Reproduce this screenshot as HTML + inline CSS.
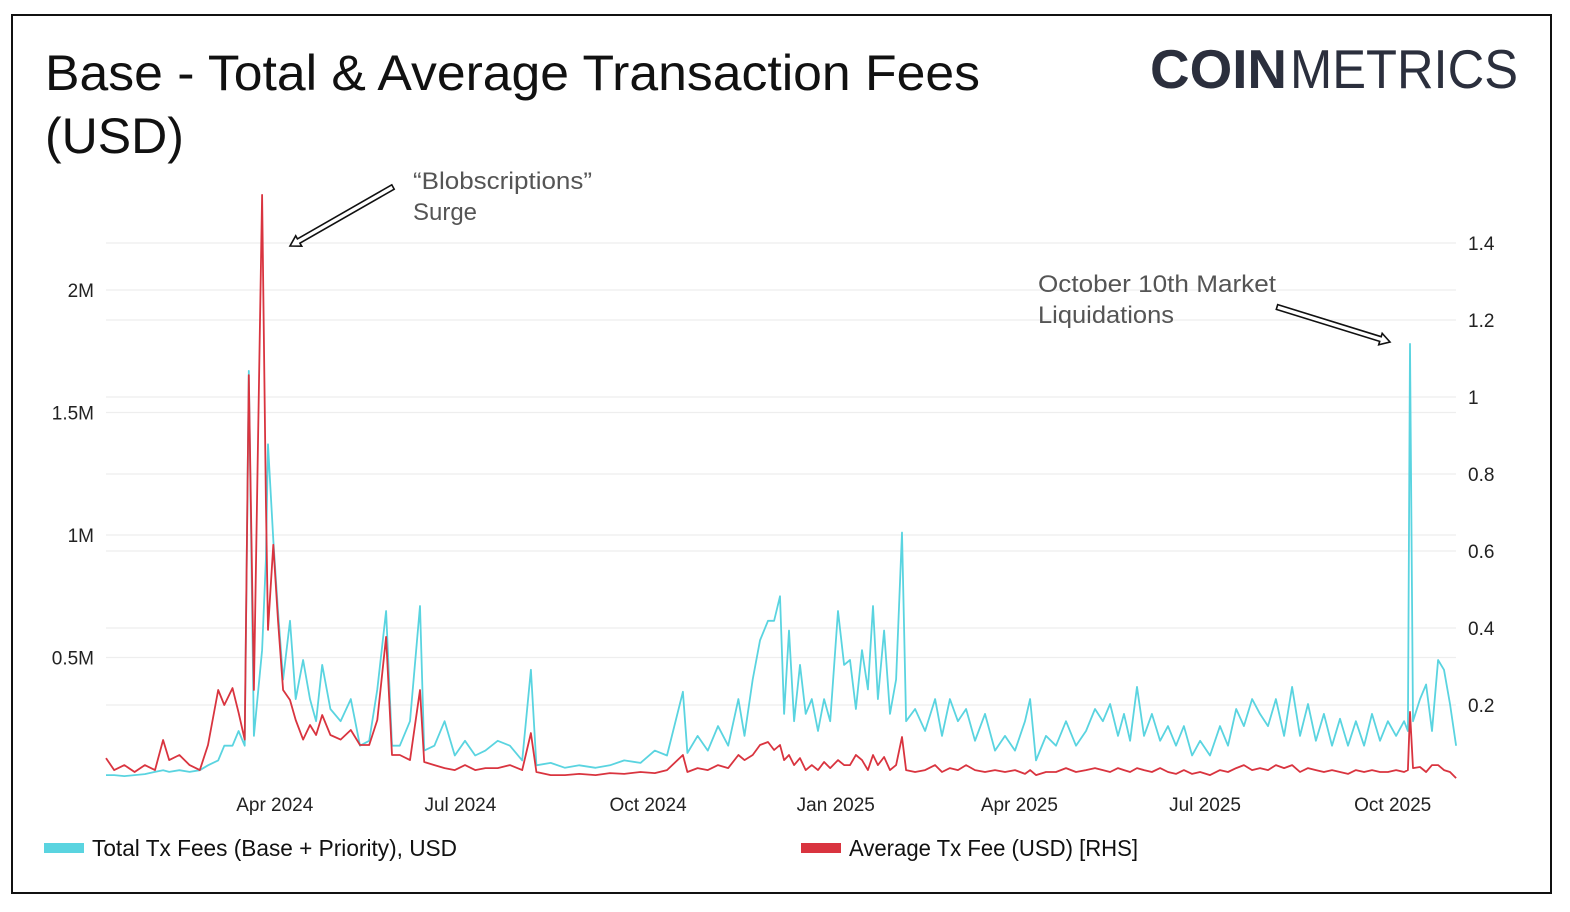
<!DOCTYPE html>
<html><head><meta charset="utf-8">
<style>
html,body{margin:0;padding:0;background:#fff;}
svg{display:block;font-family:"Liberation Sans",sans-serif;}
</style></head>
<body>
<svg id="chart" width="1570" height="912" viewBox="0 0 1570 912">
<rect x="12" y="15" width="1539" height="878" fill="#fff" stroke="#111" stroke-width="2"/>
<text x="45" y="90" font-size="50" fill="#111" textLength="935" lengthAdjust="spacingAndGlyphs">Base - Total &amp; Average Transaction Fees</text>
<text x="45" y="153" font-size="50" fill="#111">(USD)</text>
<g fill="#2b2f3d">
<text x="1150" y="88" font-size="55" font-weight="bold" textLength="137" lengthAdjust="spacingAndGlyphs">COIN</text>
<text x="1290" y="88" font-size="55" textLength="228" lengthAdjust="spacingAndGlyphs">METRICS</text>
</g>
<g id="grid"></g>
<g id="axes"></g>
<g id="series"></g>
<g fill="#555" font-size="24">
<text x="413" y="189" textLength="179" lengthAdjust="spacingAndGlyphs">“Blobscriptions”</text>
<text x="413" y="220" textLength="64" lengthAdjust="spacingAndGlyphs">Surge</text>
</g>
<g fill="#555" font-size="24">
<text x="1038" y="292" textLength="238" lengthAdjust="spacingAndGlyphs">October 10th Market</text>
<text x="1038" y="323" textLength="136" lengthAdjust="spacingAndGlyphs">Liquidations</text>
</g>
<g id="arrows"></g>
<g>
<g>
<rect x="44" y="843" width="40" height="10" fill="#5ad4e0"/>
<text x="92" y="856" font-size="23" fill="#111" textLength="365" lengthAdjust="spacingAndGlyphs">Total Tx Fees (Base + Priority), USD</text>
</g>
<g>
<rect x="801" y="843" width="40" height="10" fill="#d9343f"/>
<text x="849" y="856" font-size="23" fill="#111" textLength="289" lengthAdjust="spacingAndGlyphs">Average Tx Fee (USD) [RHS]</text>
</g>
</g>
</svg>
<script>
const days=[0,4,9,14,19,24,28,31,36,41,46,50,55,58,62,65,68,70,72.5,76.5,78.4,79.4,82,84.3,86.8,90.2,93,96.6,100,103,106,110,115,120,124.5,129,133,137.3,140.2,144,149,153.9,156,161,166,171,176,181,186,192,198,204,208.3,211,218,225,232,240,247,254,262,269,275,282.8,285,290,295,300,305,310,313,317,320.6,324.5,327.5,330.4,332.4,334.8,337.3,340.2,343,346,349,352,355,358.8,361.8,364.7,367.6,370.6,373.5,376,378.4,381.4,384.3,387.3,390.2,392.2,396.6,401.5,406.4,409.8,413.7,417.6,421.6,426,430.9,435.8,440.7,445.6,450.5,453,455.9,460.8,465.7,470.6,475.5,480.4,484.8,488.7,492.2,496.1,499,502,505.4,508.8,512.7,516.7,520.6,524.5,528.4,532.4,536.3,541.2,546.1,550,554,557.8,561.8,565.7,569.6,573.5,577.5,581.4,585.3,589.2,593.1,597,601,604.9,608.8,612.7,616.7,620.6,624.5,628.4,632.4,636.3,638.2,639.2,640.7,644.1,647.1,650,653,655.9,658.8,661.8];
const totalFees=[0.02,0.02,0.016,0.02,0.024,0.033,0.04,0.033,0.04,0.033,0.04,0.06,0.08,0.14,0.14,0.2,0.14,1.67,0.18,0.53,0.9,1.37,0.98,0.69,0.41,0.65,0.33,0.49,0.33,0.24,0.47,0.29,0.24,0.33,0.14,0.16,0.37,0.69,0.14,0.14,0.24,0.71,0.12,0.14,0.24,0.1,0.16,0.1,0.12,0.16,0.14,0.08,0.45,0.06,0.07,0.05,0.06,0.05,0.06,0.08,0.07,0.12,0.1,0.36,0.11,0.18,0.12,0.22,0.14,0.33,0.18,0.41,0.57,0.65,0.65,0.75,0.27,0.61,0.24,0.47,0.27,0.33,0.2,0.33,0.24,0.69,0.47,0.49,0.29,0.53,0.37,0.71,0.33,0.61,0.27,0.41,1.01,0.24,0.29,0.2,0.33,0.18,0.33,0.24,0.29,0.16,0.27,0.12,0.18,0.12,0.24,0.33,0.08,0.18,0.14,0.24,0.14,0.2,0.29,0.24,0.31,0.18,0.27,0.16,0.38,0.18,0.27,0.16,0.22,0.14,0.22,0.1,0.16,0.1,0.22,0.14,0.29,0.22,0.33,0.27,0.22,0.33,0.18,0.38,0.18,0.31,0.16,0.27,0.14,0.25,0.14,0.24,0.14,0.27,0.16,0.24,0.18,0.24,0.2,1.78,0.24,0.33,0.39,0.2,0.49,0.45,0.31,0.14];
const avgFee=[0.062,0.031,0.044,0.026,0.044,0.031,0.109,0.057,0.07,0.044,0.031,0.096,0.239,0.2,0.244,0.18,0.11,1.057,0.239,1.525,0.73,0.395,0.616,0.42,0.239,0.213,0.161,0.11,0.148,0.122,0.174,0.122,0.11,0.135,0.096,0.096,0.161,0.377,0.07,0.07,0.057,0.239,0.052,0.044,0.036,0.031,0.044,0.031,0.036,0.036,0.044,0.031,0.127,0.026,0.018,0.018,0.021,0.018,0.023,0.021,0.026,0.023,0.031,0.07,0.026,0.036,0.031,0.044,0.036,0.07,0.057,0.07,0.096,0.104,0.083,0.096,0.057,0.07,0.044,0.062,0.031,0.044,0.031,0.052,0.036,0.057,0.044,0.044,0.07,0.057,0.031,0.07,0.044,0.065,0.031,0.044,0.117,0.031,0.026,0.031,0.044,0.026,0.036,0.031,0.044,0.031,0.026,0.031,0.026,0.031,0.021,0.031,0.018,0.026,0.026,0.036,0.026,0.031,0.036,0.031,0.026,0.036,0.031,0.026,0.036,0.031,0.026,0.036,0.026,0.021,0.031,0.021,0.026,0.018,0.031,0.026,0.036,0.044,0.031,0.036,0.031,0.044,0.036,0.044,0.026,0.036,0.031,0.026,0.031,0.026,0.021,0.031,0.026,0.031,0.026,0.026,0.031,0.026,0.031,0.182,0.036,0.039,0.026,0.044,0.044,0.031,0.026,0.01];
const leftTicks=[0.5,1,1.5,2];
const leftTickLabels=["0.5M","1M","1.5M","2M"];
const rightTicks=[0.2,0.4,0.6,0.8,1,1.2,1.4];
const rightTickLabels=["0.2","0.4","0.6","0.8","1","1.2","1.4"];
const xTickDays=[82,173,265,357,447,538,630];
const xTickLabels=["Apr 2024","Jul 2024","Oct 2024","Jan 2025","Apr 2025","Jul 2025","Oct 2025"];

const NS="http://www.w3.org/2000/svg";
const xS=d=>106+d*2.04;
const yL=v=>780-v*245;
const yR=v=>782-v*385;
function mk(tag,attrs,parent){const e=document.createElementNS(NS,tag);for(const k in attrs)e.setAttribute(k,attrs[k]);parent.appendChild(e);return e;}
const grid=document.getElementById('grid'),axes=document.getElementById('axes'),series=document.getElementById('series'),arrows=document.getElementById('arrows');
leftTicks.forEach((t,i)=>{
 const l=mk('line',{x1:106,x2:1456,y1:yL(t),y2:yL(t),stroke:'#eeeeee','stroke-width':1.2},grid);
 
 
 const tx=mk('text',{x:94,y:yL(t)+7,'text-anchor':'end','font-size':19,fill:'#222'},axes);
 tx.textContent=leftTickLabels[i];
 
 
});
rightTicks.forEach((t,i)=>{
 const l=mk('line',{x1:106,x2:1456,y1:yR(t),y2:yR(t),stroke:'#eeeeee','stroke-width':1.2},grid);
 
 
 const tx=mk('text',{x:1468,y:yR(t)+7,'font-size':19,fill:'#222'},axes);
 tx.textContent=rightTickLabels[i];
 
 
});
xTickDays.forEach((d,i)=>{
 const tx=mk('text',{x:xS(d)+1.5,y:811,'text-anchor':'middle','font-size':19,fill:'#222'},axes);
 tx.textContent=xTickLabels[i];
 
 
});
const cp=mk('path',{d:days.map((d,i)=>(i?'L':'M')+xS(d).toFixed(1)+','+yL(totalFees[i]).toFixed(1)).join(''),fill:'none',stroke:'#5ad4e0','stroke-width':1.8,'stroke-linejoin':'round'},series);


const rp=mk('path',{d:days.map((d,i)=>(i?'L':'M')+xS(d).toFixed(1)+','+yR(avgFee[i]).toFixed(1)).join(''),fill:'none',stroke:'#d9343f','stroke-width':1.8,'stroke-linejoin':'round'},series);


function arrow(x1,y1,x2,y2,name){
 const g=mk('g',{},arrows);
 
 
 const dx=x2-x1,dy=y2-y1,L=Math.hypot(dx,dy),ux=dx/L,uy=dy/L,px=-uy,py=ux;
 const hl=10,sw=2.5,hw=6;
 const bx=x2-ux*hl,by=y2-uy*hl;
 const pts=[[x1+px*sw,y1+py*sw],[bx+px*sw,by+py*sw],[bx+px*hw,by+py*hw],[x2,y2],[bx-px*hw,by-py*hw],[bx-px*sw,by-py*sw],[x1-px*sw,y1-py*sw]];
 mk('polygon',{points:pts.map(p=>p[0].toFixed(1)+','+p[1].toFixed(1)).join(' '),fill:'#fff',stroke:'#111','stroke-width':1.6},g);
}
arrow(393,187,290,246,'blobscriptions-arrow');
arrow(1277,307,1390,342,'liquidations-arrow');
</script>
</body></html>
